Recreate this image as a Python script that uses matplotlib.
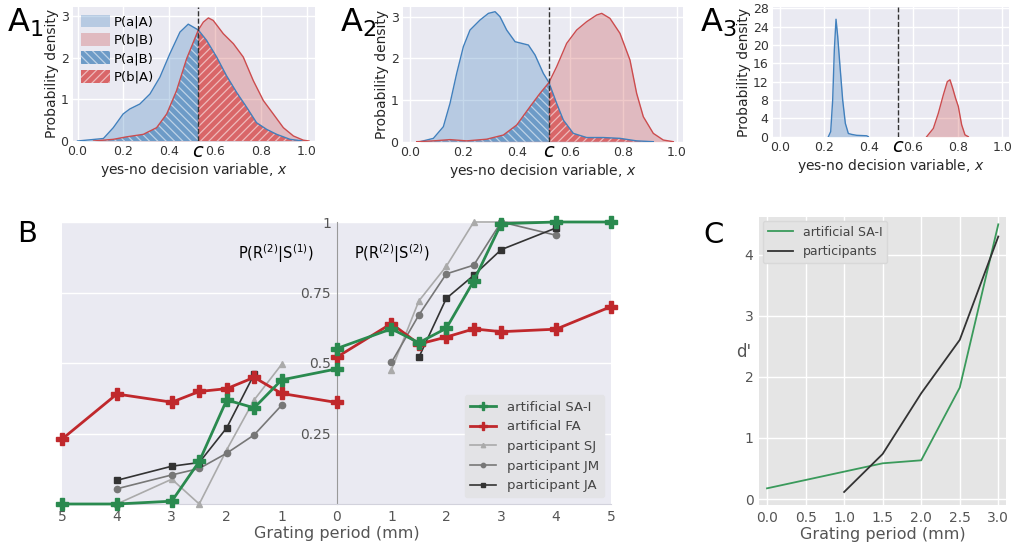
import numpy as np
import matplotlib.pyplot as plt
from matplotlib.patches import Patch
from matplotlib.lines import Line2D

W, H = 1014, 544

#
# panel A: kde curves
#
a1_blue_x = [0.0, 0.113, 0.156, 0.199, 0.228, 0.272, 0.316, 0.359, 0.403, 0.447, 0.483, 0.505, 0.527,
             0.563, 0.607, 0.650, 0.694, 0.738, 0.781, 0.825, 0.869, 0.927, 0.985]
a1_blue_y = [0, 0.06, 0.32, 0.65, 0.77, 0.89, 1.13, 1.53, 2.10, 2.62, 2.81, 2.74, 2.67,
             2.42, 2.02, 1.57, 1.17, 0.81, 0.44, 0.28, 0.16, 0.04, 0]
a1_red_x = [0.07, 0.156, 0.214, 0.287, 0.345, 0.389, 0.432, 0.476, 0.527, 0.549, 0.571, 0.592,
            0.636, 0.680, 0.723, 0.767, 0.811, 0.854, 0.898, 0.942, 0.985, 1.01]
a1_red_y = [0, 0.04, 0.10, 0.16, 0.32, 0.65, 1.21, 1.98, 2.67, 2.86, 2.96, 2.90,
            2.58, 2.34, 2.02, 1.45, 0.97, 0.65, 0.32, 0.12, 0.02, 0]
a1_c = 0.527

a2_blue_x = [0.0375, 0.0875, 0.125, 0.15, 0.175, 0.2, 0.225, 0.2625, 0.294, 0.319, 0.3375, 0.3625,
             0.394, 0.419, 0.444, 0.469, 0.5, 0.521, 0.55, 0.575, 0.6125, 0.6625, 0.725, 0.7875,
             0.85, 0.9125]
a2_blue_y = [0, 0.08, 0.36, 0.92, 1.64, 2.28, 2.68, 2.92, 3.08, 3.12, 3.0, 2.68,
             2.40, 2.36, 2.32, 2.08, 1.64, 1.42, 0.92, 0.52, 0.20, 0.10, 0.10, 0.08,
             0.02, 0]
a2_red_x = [0.025, 0.0875, 0.15, 0.2125, 0.2875, 0.35, 0.4, 0.45, 0.4875, 0.521, 0.55, 0.5875,
            0.625, 0.6625, 0.7, 0.719, 0.75, 0.7875, 0.825, 0.85, 0.875, 0.9125, 0.95, 0.9875]
a2_red_y = [0, 0.02, 0.05, 0.02, 0.06, 0.16, 0.40, 0.84, 1.16, 1.42, 1.80, 2.36,
            2.68, 2.88, 3.04, 3.08, 2.96, 2.60, 1.96, 1.16, 0.60, 0.20, 0.04, 0]
a2_c = 0.521

a3_blue_x = [0.2175, 0.228, 0.237, 0.2445, 0.252, 0.2595, 0.27, 0.282, 0.294, 0.3075, 0.3225,
             0.345, 0.39, 0.3975]
a3_blue_y = [0, 1.1, 8.0, 19.0, 25.6, 21.9, 15.3, 8.0, 2.9, 0.7, 0.5, 0.3, 0.2, 0]
a3_red_x = [0.66, 0.69, 0.7125, 0.735, 0.753, 0.765, 0.777, 0.79, 0.8025, 0.8175, 0.8325, 0.8475]
a3_red_y = [0, 1.8, 5.1, 9.1, 12.0, 12.4, 10.6, 8.4, 6.6, 2.6, 0.4, 0]
a3_c = 0.5325

#
# panel B: psychometric data (negative side = P(R2|S1))
#
b_neg_x = [-5, -4, -3, -2.5, -2, -1.5, -1, 0]
b_green_neg = [0, 0, 0.01, 0.151, 0.369, 0.341, 0.44, 0.479]
b_red_neg = [0.23, 0.39, 0.361, 0.399, 0.409, 0.449, 0.392, 0.36]
b_pos_x = [0, 1, 1.5, 2, 2.5, 3, 4, 5]
b_green_pos = [0.551, 0.621, 0.572, 0.623, 0.791, 0.994, 1.0, 1.0]
b_red_pos = [0.52, 0.64, 0.567, 0.592, 0.621, 0.611, 0.62, 0.70]

sj_neg_x = [-4, -3, -2.5, -2, -1.5, -1]
sj_neg = [0, 0.088, 0, 0.192, 0.369, 0.495]
jm_neg_x = [-4, -3, -2.5, -2, -1.5, -1]
jm_neg = [0.054, 0.103, 0.126, 0.18, 0.245, 0.35]
ja_neg_x = [-4, -3, -2.5, -2, -1.5]
ja_neg = [0.084, 0.134, 0.147, 0.27, 0.46]
sj_pos_x = [1, 1.5, 2, 2.5, 3, 4]
sj_pos = [0.475, 0.72, 0.843, 1.0, 1.0, 1.0]
jm_pos_x = [1, 1.5, 2, 2.5, 3, 4]
jm_pos = [0.502, 0.67, 0.816, 0.847, 1.0, 0.953]
ja_pos_x = [1.5, 2, 2.5, 3, 4]
ja_pos = [0.52, 0.729, 0.811, 0.902, 0.979]

b_ticks = [-5, -4, -3, -2, -1, 0, 1, 2, 3, 4, 5]
b_tick_labels = ['5', '4', '3', '2', '1', '0', '1', '2', '3', '4', '5']

#
# panel C: d'
#
c_green_x = [0, 1.5, 2, 2.5, 3]
c_green = [0.175, 0.585, 0.634, 1.825, 4.50]
c_black_x = [1, 1.5, 2, 2.5, 3]
c_black = [0.115, 0.738, 1.732, 2.607, 4.30]

BLUE = '#4180bd'
RED = '#cc4c4e'
BLUE_H = '#6d9bc7'
RED_H = '#d96668'
GREEN = '#2a8a4f'
FA_RED = '#c0282c'

plt.rcParams['hatch.linewidth'] = 0.9

fig = plt.figure(figsize=(W / 100, H / 100), dpi=100)


def add_ax(left, top, right, bottom):
    return fig.add_axes([left / W, 1 - bottom / H, (right - left) / W, (bottom - top) / H])


def kde_panel(ax, bx, by, rx, ry, c, xlim, ylim, yticks, hatch=True):
    ax.set_facecolor('#EAEAF2')
    for s in ax.spines.values():
        s.set_visible(False)
    ax.grid(True, color='white', lw=1)
    ax.set_axisbelow(True)
    ax.fill_between(bx, by, color=BLUE, alpha=0.3, lw=0)
    ax.fill_between(rx, ry, color=RED, alpha=0.3, lw=0)
    if hatch:
        rx_a, ry_a = np.array(rx), np.array(ry)
        bx_a, by_a = np.array(bx), np.array(by)
        m = rx_a <= c + 1e-9
        ax.fill_between(rx_a[m], ry_a[m], facecolor=BLUE_H, edgecolor=(1, 1, 1, 0.55),
                        hatch='\\\\\\\\', lw=0)
        m = bx_a >= c - 1e-9
        ax.fill_between(bx_a[m], by_a[m], facecolor=RED_H, edgecolor=(1, 1, 1, 0.55),
                        hatch='////', lw=0)
    ax.plot(bx, by, color=BLUE, lw=1)
    ax.plot(rx, ry, color=RED, lw=1)
    ax.axvline(c, color='#333333', ls='--', lw=1)
    ax.set_xlim(*xlim)
    ax.set_ylim(*ylim)
    ax.set_xticks([0, 0.2, 0.4, 0.6, 0.8, 1.0])
    ax.set_yticks(yticks)
    ax.tick_params(length=0, labelsize=9, labelcolor='#333333', pad=3)
    ax.set_xlabel('yes-no decision variable, $x$', fontsize=10, color='#262626', labelpad=2)
    ax.set_ylabel('Probability density', fontsize=10, color='#262626', labelpad=1)
    ax.text(c, -0.005, '$c$', transform=ax.get_xaxis_transform(), fontsize=14,
            ha='center', va='top', color='black')


ax1 = add_ax(72.7, 6.7, 315, 141)
kde_panel(ax1, a1_blue_x, a1_blue_y, a1_red_x, a1_red_y, a1_c, (-0.021, 1.036), (0, 3.23), [0, 1, 2, 3])
handles = [Patch(facecolor=BLUE, alpha=0.3, edgecolor='none', label='P(a|A)'),
           Patch(facecolor=RED, alpha=0.3, edgecolor='none', label='P(b|B)'),
           Patch(facecolor=BLUE_H, edgecolor=(1, 1, 1, 0.55), hatch='\\\\\\\\', lw=0, label='P(a|B)'),
           Patch(facecolor=RED_H, edgecolor=(1, 1, 1, 0.55), hatch='////', lw=0, label='P(b|A)')]
ax1.legend(handles=handles, loc='upper left', frameon=False, fontsize=9.5, labelspacing=0.35,
           handlelength=2.2, handleheight=1.1, handletextpad=0.3, borderaxespad=0.2)

ax2 = add_ax(402.7, 6.7, 683.3, 141.7)
kde_panel(ax2, a2_blue_x, a2_blue_y, a2_red_x, a2_red_y, a2_c, (-0.0275, 1.025), (0, 3.24), [0, 1, 2, 3])

ax3 = add_ax(772.7, 7.3, 1009.3, 136.7)
kde_panel(ax3, a3_blue_x, a3_blue_y, a3_red_x, a3_red_y, a3_c, (-0.033, 1.032), (0, 28.2),
          [0, 4, 8, 12, 16, 20, 24, 28], hatch=False)

#
# B
#
axb = add_ax(62, 222, 611, 504)
axb.set_facecolor('#EAEAF2')
axb.spines['top'].set_visible(False)
axb.spines['right'].set_visible(False)
axb.spines['left'].set_position(('data', 0))
axb.spines['left'].set_color('#999999')
axb.spines['bottom'].set_color('#d2d2dc')
axb.yaxis.grid(True, color='white', lw=1)
axb.set_axisbelow(True)

pkw = dict(lw=1.2, ms=4.5, clip_on=False, zorder=3)
axb.plot(sj_neg_x, sj_neg, color='#aaaaaa', marker='^', **pkw)
axb.plot(sj_pos_x, sj_pos, color='#aaaaaa', marker='^', **pkw)
axb.plot(jm_neg_x, jm_neg, color='#777777', marker='o', **pkw)
axb.plot(jm_pos_x, jm_pos, color='#777777', marker='o', **pkw)
axb.plot(ja_neg_x, ja_neg, color='#333333', marker='s', **pkw)
axb.plot(ja_pos_x, ja_pos, color='#333333', marker='s', **pkw)
akw = dict(lw=2, ms=8, marker='P', clip_on=False, zorder=4)
axb.plot(b_neg_x, b_red_neg, color=FA_RED, **akw)
axb.plot(b_pos_x, b_red_pos, color=FA_RED, **akw)
axb.plot(b_neg_x, b_green_neg, color=GREEN, **akw)
axb.plot(b_pos_x, b_green_pos, color=GREEN, **akw)

axb.set_xlim(-5, 5)
axb.set_ylim(0, 1)
axb.set_xticks(b_ticks)
axb.set_xticklabels(b_tick_labels)
axb.set_yticks([0.25, 0.5, 0.75, 1])
axb.set_yticklabels(['0.25', '0.5', '0.75', '1'])
axb.tick_params(length=0, labelsize=10, labelcolor='#555555', pad=4)
axb.set_xlabel('Grating period (mm)', fontsize=11.5, color='#555555', labelpad=2)
axb.text(-1.1, 0.87, 'P(R$^{(2)}$|S$^{(1)}$)', fontsize=10.5, ha='center', va='baseline')
axb.text(1.0, 0.87, 'P(R$^{(2)}$|S$^{(2)}$)', fontsize=10.5, ha='center', va='baseline')

leg_handles = [Line2D([], [], color=GREEN, lw=2, marker='P', ms=8, label='artificial SA-I'),
               Line2D([], [], color=FA_RED, lw=2, marker='P', ms=8, label='artificial FA'),
               Line2D([], [], color='#aaaaaa', lw=1.2, marker='^', ms=4.5, label='participant SJ'),
               Line2D([], [], color='#777777', lw=1.2, marker='o', ms=4.5, label='participant JM'),
               Line2D([], [], color='#333333', lw=1.2, marker='s', ms=4.5, label='participant JA')]
lb = axb.legend(handles=leg_handles, loc='lower right', fontsize=9.5, markerscale=0.7,
                facecolor='#e3e3e6', edgecolor='#e3e3e6', framealpha=1, labelcolor='#444444',
                borderaxespad=0.5)

#
# C
#
axc = add_ax(759, 217, 1006, 505)
axc.set_facecolor('#E5E5E5')
for s in axc.spines.values():
    s.set_visible(False)
axc.grid(True, color='white', lw=1)
axc.set_axisbelow(True)
axc.plot(c_green_x, c_green, color='#3a9a5b', lw=1.3, label='artificial SA-I')
axc.plot(c_black_x, c_black, color='#333333', lw=1.3, label='participants')
axc.set_xlim(-0.104, 3.1)
axc.set_ylim(-0.098, 4.62)
axc.set_xticks([0, 0.5, 1, 1.5, 2, 2.5, 3])
axc.set_xticklabels(['0.0', '0.5', '1.0', '1.5', '2.0', '2.5', '3.0'])
axc.set_yticks([0, 1, 2, 3, 4])
axc.tick_params(length=0, labelsize=10, labelcolor='#555555', pad=4)
axc.set_xlabel('Grating period (mm)', fontsize=11.5, color='#555555', labelpad=2)
axc.set_ylabel("d'", fontsize=12, color='#555555', rotation=0)
axc.yaxis.set_label_coords(-0.06, 0.5)
axc.legend(loc='upper left', fontsize=9, facecolor='#e3e3e3', edgecolor='#d8d8d8',
           framealpha=1, labelcolor='#444444', borderaxespad=0.3)

#
# panel letters
#
fig.text(7 / W, 1 - 32 / H, r'$\mathregular{A_1}$', fontsize=23, va='baseline')
fig.text(340 / W, 1 - 32 / H, r'$\mathregular{A_2}$', fontsize=23, va='baseline')
fig.text(700 / W, 1 - 32 / H, r'$\mathregular{A_3}$', fontsize=23, va='baseline')
fig.text(17 / W, 1 - 242 / H, 'B', fontsize=21, va='baseline')
fig.text(703 / W, 1 - 243 / H, 'C', fontsize=21, va='baseline')

fig.savefig('out.png', dpi=100)
